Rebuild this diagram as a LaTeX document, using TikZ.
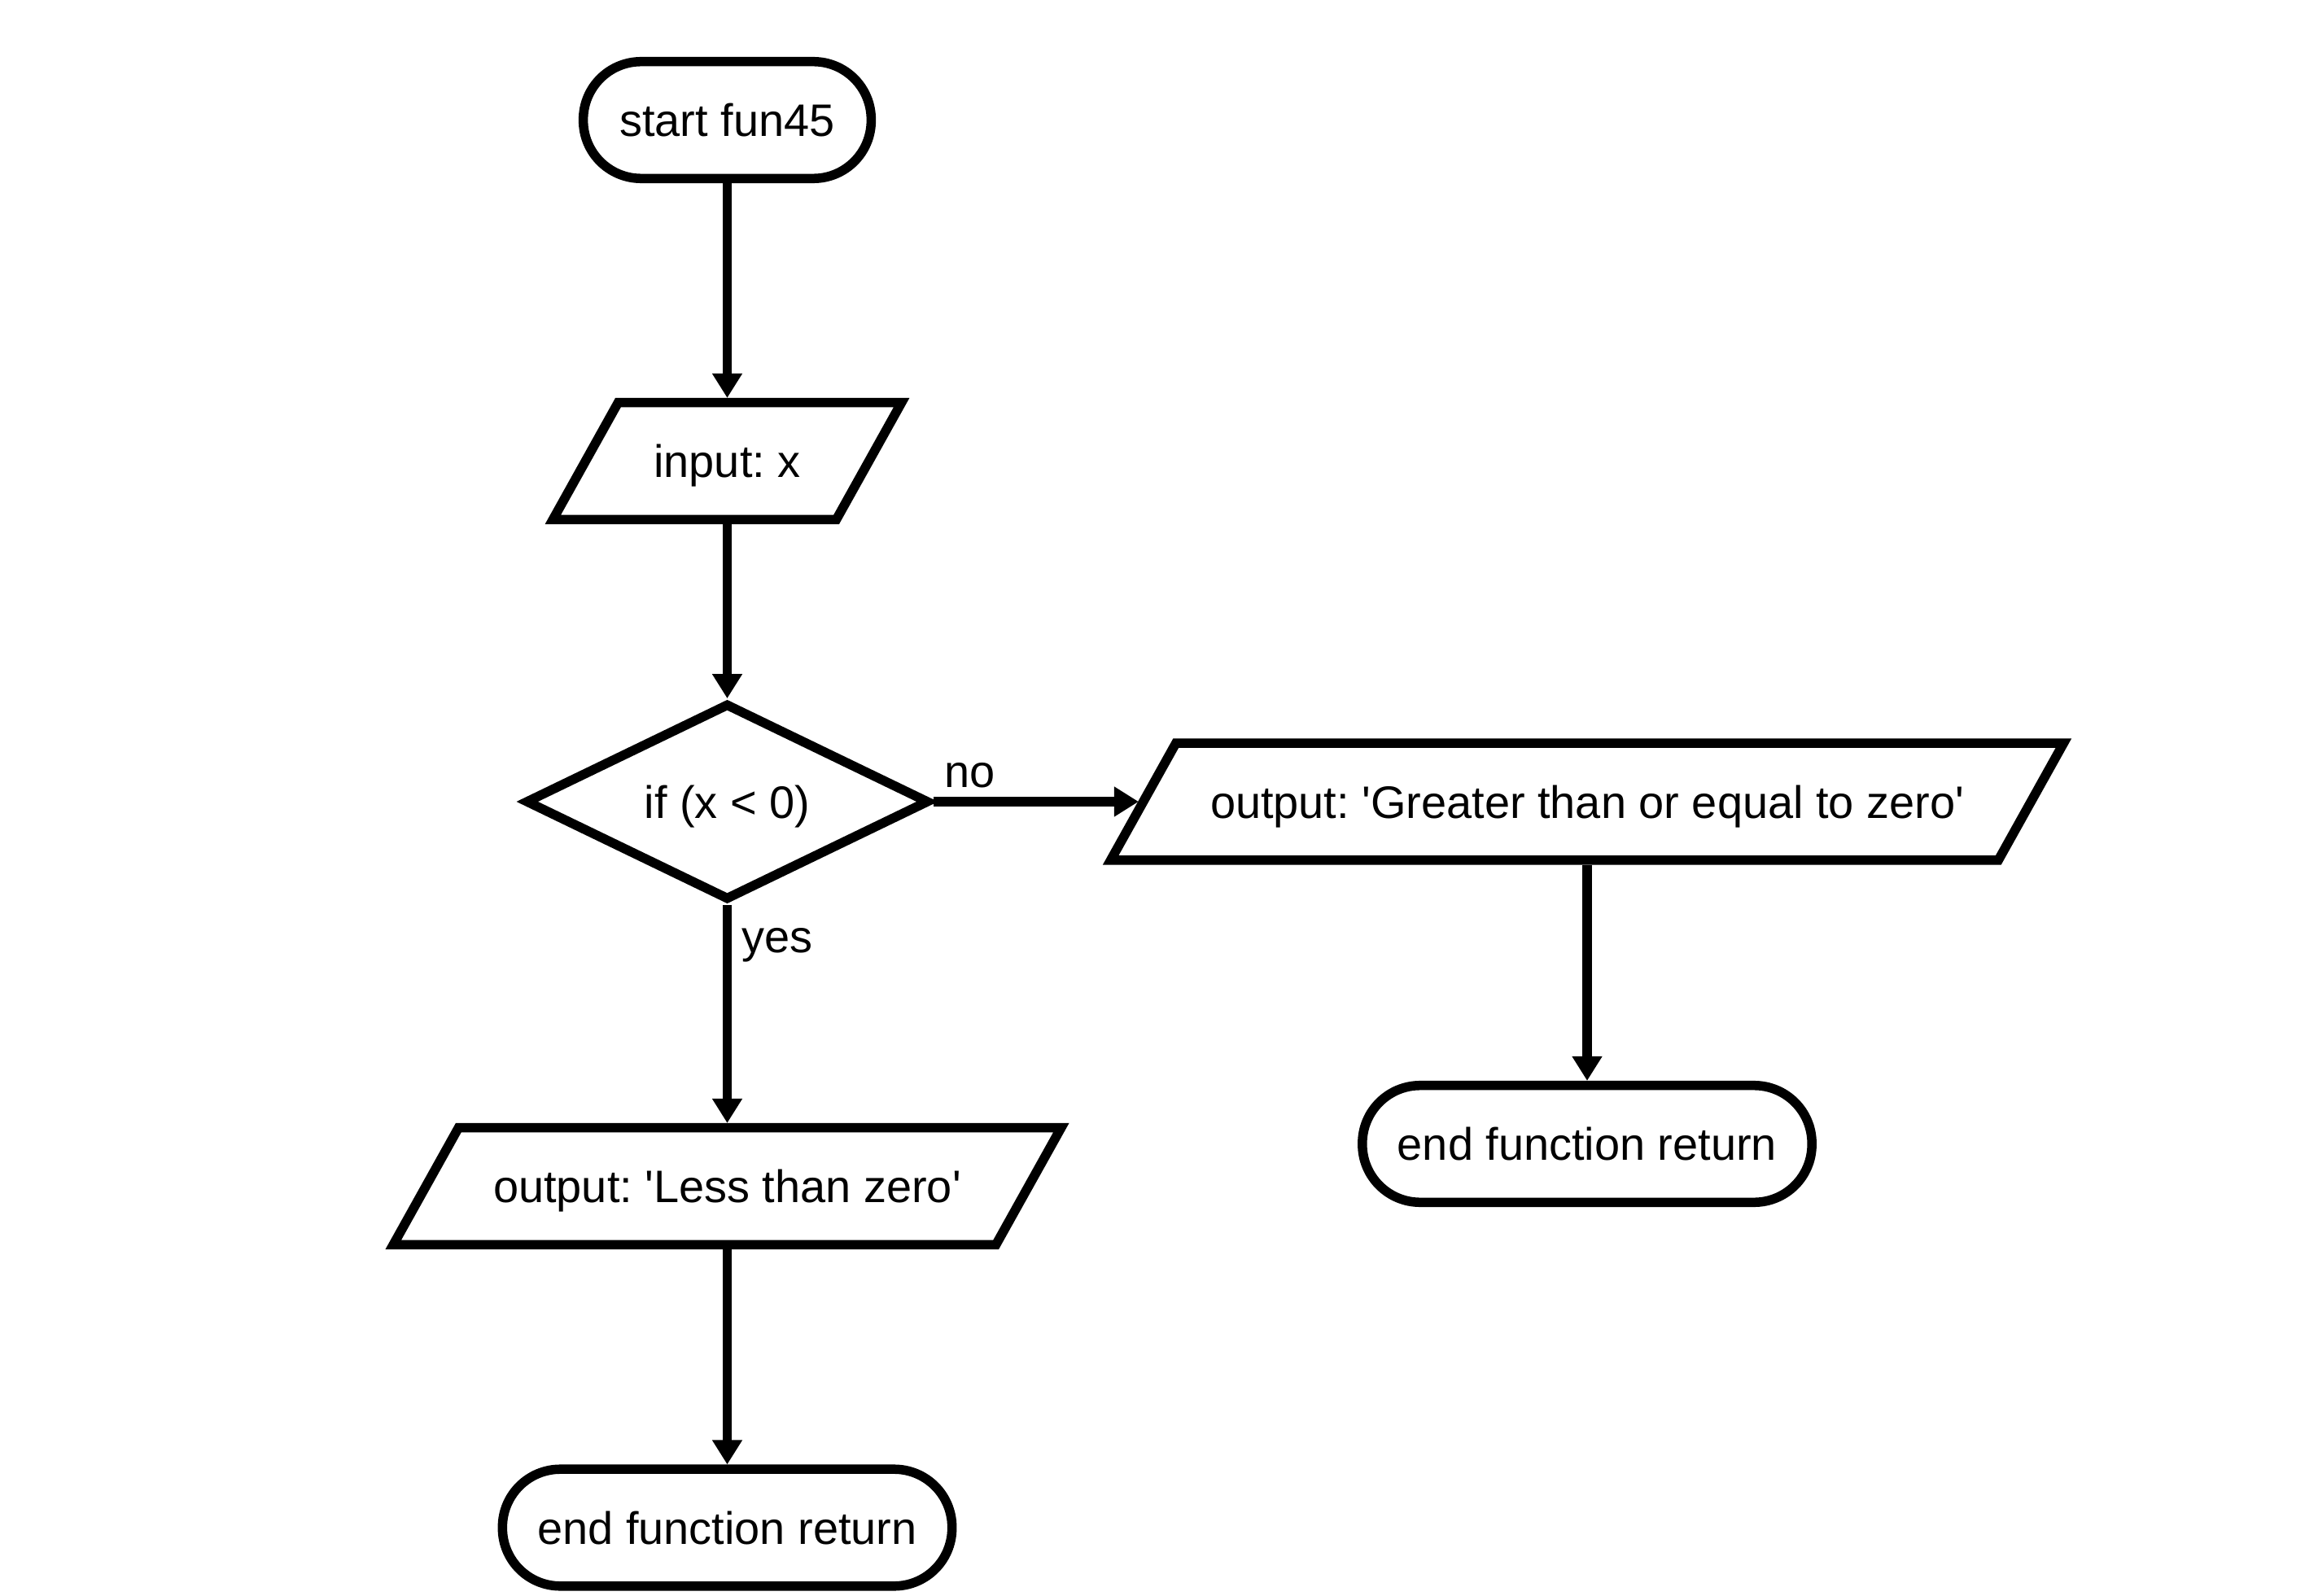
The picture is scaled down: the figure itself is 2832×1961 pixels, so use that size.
\documentclass[tikz,border=0pt]{standalone}
\usepackage{fontspec}
\setmainfont{Liberation Sans}
\usetikzlibrary{shapes.geometric,arrows.meta}

% outline of a slanted input/output box around a rectangle node
\newcommand\slantbox[1]{%
  \draw[ioline]
    ([shift={(0.4575cm,-0.0575cm)}]#1.north west) --
    ([shift={(0.3425cm,-0.0575cm)}]#1.north east) --
    ([shift={(-0.4575cm,0.0575cm)}]#1.south east) --
    ([shift={(-0.3425cm,0.0575cm)}]#1.south west) -- cycle;}

\begin{document}
\frenchspacing
\begin{tikzpicture}[x=0.01cm,y=-0.01cm,
  every node/.style={font=\fontsize{15.9pt}{19pt}\selectfont},
  box/.style={draw=black, line width=0.115cm, fill=white, inner sep=0pt,
    text height=0.40cm, text depth=0pt},
  term/.style={box, rectangle, rounded corners=0.71cm, minimum height=1.435cm},
  io/.style={rectangle, inner sep=0pt, outer sep=0.0575cm, minimum height=1.435cm,
    text height=0.40cm, text depth=0pt},
  ioline/.style={draw=black, line width=0.115cm, line join=miter},
  decision/.style={box, diamond, aspect=2.05, minimum width=4.96cm, minimum height=2.42cm},
  flow/.style={line width=0.115cm, -{Triangle[width=0.35cm,length=0.30cm]}},
  lbl/.style={inner sep=0pt}
]
% canvas
\fill[white] (0,0) rectangle (2832,1961);
\useasboundingbox (0,0) rectangle (2832,1961);

% nodes
\node[term, minimum width=3.535cm] (start) at (893.5,147.5) {start fun45};
\node[io, minimum width=3.48cm]    (in)    at (893.5,566.5) {input: x};
\node[decision]                    (dec)   at (893.5,985)   {if (x < 0)};
\node[io, minimum width=10.90cm]   (out2)  at (1950,985)    {output: \textquotesingle Greater than or equal to zero\textquotesingle};
\node[term, minimum width=5.52cm]  (end2)  at (1950,1405.5) {end function return};
\node[io, minimum width=7.40cm]    (out1)  at (893.5,1457.5) {output: \textquotesingle Less than zero\textquotesingle};
\node[term, minimum width=5.52cm]  (end1)  at (893.5,1877)  {end function return};

\slantbox{in}
\slantbox{out2}
\slantbox{out1}

% branch labels
\node[lbl, anchor=base west] (no)  at (1160,967)  {no};
\node[lbl, anchor=base west] (yes) at (911,1170)  {yes};

% connectors
\draw[flow] (start) -- (in);
\draw[flow] (in) -- (dec);
\draw[flow] (dec.east) -- (out2.west);
\draw[flow] (out2) -- (end2);
\draw[flow] (dec.south) -- (out1.north);
\draw[flow] (out1) -- (end1);
\end{tikzpicture}
\end{document}
